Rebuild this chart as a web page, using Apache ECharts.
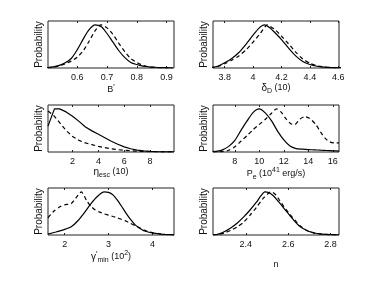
<!DOCTYPE html>
<html><head><meta charset="utf-8">
<script src="https://cdn.jsdelivr.net/npm/echarts@6/dist/echarts.min.js"></script>
<style>html,body{margin:0;padding:0;background:#fff}#c{width:374px;height:281px}</style>
</head><body><div id="c"></div>
<script>
// ---- Panel 1: B'
const b_x = [0.50,0.52,0.54,0.56,0.58,0.60,0.62,0.64,0.66,0.68,0.70,0.72,0.74,0.76,0.78,0.80,0.82,0.84,0.86,0.88,0.90,0.92];
const b_solid = [0.01,0.025,0.06,0.12,0.22,0.42,0.67,0.89,1.00,0.96,0.80,0.60,0.40,0.24,0.13,0.08,0.045,0.028,0.018,0.010,0.006,0.003];
const b_dashed = [0.005,0.02,0.05,0.10,0.16,0.25,0.40,0.62,0.86,1.00,0.93,0.78,0.57,0.38,0.22,0.13,0.06,0.03,0.012,0.006,0.003,0.001];
const b_ticks = [0.6,0.7,0.8,0.9];
// ---- Panel 2: delta_D
const d_xs = [3.70,3.75,3.80,3.85,3.90,3.95,4.00,4.04,4.08,4.12,4.16,4.20,4.25,4.30,4.35,4.40,4.45,4.50,4.55,4.60,4.65];
const d_solid = [0.01,0.04,0.12,0.22,0.36,0.55,0.76,0.92,1.00,0.93,0.80,0.66,0.46,0.28,0.15,0.08,0.04,0.02,0.01,0.005,0.003];
const d_xd = [3.70,3.75,3.80,3.85,3.90,3.95,4.00,4.05,4.10,4.15,4.20,4.25,4.30,4.35,4.40,4.45,4.50,4.55,4.60,4.65];
const d_dashed = [0.005,0.03,0.10,0.18,0.28,0.42,0.60,0.80,1.00,0.90,0.74,0.56,0.37,0.21,0.11,0.05,0.025,0.012,0.005,0.002];
const d_ticks = [3.8,4,4.2,4.4,4.6];
// ---- Panel 3: eta_esc
const e_xs = [0.1,0.6,1.0,1.5,2,2.5,3,3.5,4,4.5,5,5.5,6,6.5,7,7.5,8,8.5,9,9.85];
const e_solid = [0.60,1.00,1.00,0.93,0.83,0.71,0.58,0.49,0.41,0.33,0.25,0.18,0.12,0.075,0.045,0.025,0.014,0.008,0.004,0.002];
const e_xd = [0.1,0.5,1.0,1.5,2,2.5,3,3.5,4,4.5,5,5.5,6,6.5,7,7.5,8,9,9.85];
const e_dashed = [0.95,0.86,0.68,0.50,0.36,0.27,0.21,0.17,0.13,0.10,0.075,0.055,0.04,0.028,0.018,0.012,0.007,0.003,0.001];
const e_ticks = [2,4,6,8];
// ---- Panel 4: P_e
const p_xs = [6.2,6.6,7.0,7.5,8.0,8.5,9.0,9.5,10.0,10.5,11.0,11.5,12.0,12.5,13.0,13.5,14.0,14.5,15.0,15.5,16.0,16.5];
const p_solid = [0.01,0.02,0.05,0.13,0.27,0.50,0.72,0.92,1.00,0.90,0.72,0.48,0.28,0.14,0.08,0.065,0.055,0.05,0.042,0.035,0.028,0.02];
const p_xd = [6.2,7.0,7.5,8.0,8.5,9.0,9.5,10.0,10.5,11.0,11.4,11.8,12.2,12.6,12.9,13.3,13.7,14.1,14.6,15.0,15.4,15.8,16.2,16.5];
const p_dashed = [0.0,0.01,0.04,0.12,0.25,0.38,0.52,0.64,0.76,0.90,1.00,0.92,0.76,0.65,0.64,0.76,0.82,0.78,0.64,0.46,0.31,0.23,0.21,0.21];
const p_ticks = [8,10,12,14,16];
// ---- Panel 5: gamma'_min
const g_xs = [1.62,1.8,2.0,2.15,2.3,2.45,2.6,2.75,2.9,3.0,3.1,3.2,3.3,3.4,3.5,3.6,3.7,3.8,3.9,4.0,4.1,4.2,4.3,4.49];
const g_solid = [0.02,0.07,0.13,0.19,0.33,0.52,0.73,0.90,1.00,0.99,0.93,0.81,0.66,0.50,0.36,0.24,0.16,0.10,0.07,0.05,0.035,0.02,0.012,0.005];
const g_xd = [1.62,1.75,1.9,2.0,2.15,2.25,2.38,2.5,2.6,2.7,2.8,2.9,3.0,3.1,3.2,3.3,3.4,3.5,3.6,3.7,3.8,3.9,4.0,4.1,4.2,4.3,4.49];
const g_dashed = [0.40,0.55,0.66,0.70,0.73,0.85,1.00,0.80,0.66,0.58,0.53,0.49,0.46,0.43,0.40,0.36,0.32,0.27,0.22,0.17,0.12,0.08,0.055,0.035,0.02,0.012,0.005];
const g_ticks = [2,3,4];
// ---- Panel 6: n
const n_xs = [2.245,2.27,2.30,2.33,2.36,2.39,2.42,2.45,2.47,2.49,2.51,2.53,2.55,2.57,2.59,2.61,2.63,2.65,2.67,2.69,2.71,2.73,2.76,2.80,2.84];
const n_solid = [0.0,0.02,0.08,0.17,0.28,0.42,0.58,0.76,0.90,1.00,0.98,0.91,0.80,0.68,0.56,0.44,0.32,0.22,0.15,0.10,0.065,0.04,0.02,0.008,0.003];
const n_xd = [2.245,2.27,2.30,2.33,2.36,2.39,2.42,2.45,2.48,2.51,2.52,2.54,2.56,2.58,2.60,2.62,2.64,2.66,2.68,2.70,2.72,2.75,2.80,2.84];
const n_dashed = [0.0,0.015,0.05,0.11,0.19,0.30,0.46,0.64,0.84,0.98,1.00,0.94,0.80,0.66,0.53,0.41,0.30,0.20,0.13,0.08,0.05,0.025,0.008,0.003];
const n_ticks = [2.4,2.6,2.8];

const FONT = 'Liberation Sans, Arial, Helvetica, sans-serif';
const zip = (xs, ys) => xs.map((x, i) => [x, ys[i]]);

const panels = [
  {xs:b_x, s:b_solid, xd:b_x, d:b_dashed, min:0.502, max:0.925, ticks:b_ticks, name:'B{p|′}', gap:14, smooth:0.3},
  {xs:d_xs, s:d_solid, xd:d_xd, d:d_dashed, min:3.718, max:4.605, ticks:d_ticks, name:'{g|δ}{sub|D} (10)', gap:10, smooth:0.2},
  {xs:e_xs, s:e_solid, xd:e_xd, d:e_dashed, min:0.1, max:9.85, ticks:e_ticks, name:'{g|η}{sub|esc} (10)', gap:12, smooth:0},
  {xs:p_xs, s:p_solid, xd:p_xd, d:p_dashed, min:6.22, max:16.5, ticks:p_ticks, name:'P{sub|e} (10{sup|41} erg/s)', gap:12, smooth:0.25},
  {xs:g_xs, s:g_solid, xd:g_xd, d:g_dashed, min:1.62, max:4.49, ticks:g_ticks, name:'{g|γ}{p|′}{sub|min} (10{sup|2})', gap:13, smooth:0.2},
  {xs:n_xs, s:n_solid, xd:n_xd, d:n_dashed, min:2.245, max:2.84, ticks:n_ticks, name:'n', gap:25, smooth:0.25}
];
const lefts = [48, 213];
const tops = [21, 105, 188];
const W = 126, H = 47;

const rich = {
  g: {fontSize: 10, fontFamily: FONT, color: '#111'},
  sub: {fontSize: 7, fontFamily: FONT, color: '#111', verticalAlign: 'bottom', padding: [7, 0, 0, 0]},
  sup: {fontSize: 7, fontFamily: FONT, color: '#111', verticalAlign: 'top', padding: [0, 0, 6, 0]},
  p: {fontSize: 8, fontFamily: FONT, color: '#111', verticalAlign: 'top', padding: [0, 0, 6, 0]}
};

const grid = [], xAxis = [], yAxis = [], series = [];
panels.forEach((p, i) => {
  const col = i % 2, row = Math.floor(i / 2);
  grid.push({left: lefts[col], top: tops[row], width: W, height: H, show: true,
    borderColor: '#222', borderWidth: 1, backgroundColor: '#fff'});
  xAxis.push({type: 'value', gridIndex: i, position: 'bottom', min: p.min, max: p.max,
    axisLine: {show: false}, splitLine: {show: false},
    axisTick: {inside: true, length: 2, customValues: p.ticks, lineStyle: {color: '#222'}},
    axisLabel: {customValues: p.ticks, fontSize: 9, fontFamily: FONT, color: '#111', margin: 5},
    name: p.name, nameLocation: 'middle', nameGap: p.gap,
    nameTextStyle: {fontSize: 9, fontFamily: FONT, color: '#111', rich: rich}});
  xAxis.push({type: 'value', gridIndex: i, position: 'top', min: p.min, max: p.max,
    axisLine: {show: false}, splitLine: {show: false},
    axisTick: {inside: true, length: 2, customValues: p.ticks, lineStyle: {color: '#222'}},
    axisLabel: {show: false}});
  yAxis.push({type: 'value', gridIndex: i, min: 0, max: 1.09,
    axisLine: {show: false}, axisTick: {show: false}, axisLabel: {show: false}, splitLine: {show: false},
    name: 'Probability', nameLocation: 'middle', nameGap: 4, nameRotate: 90,
    nameTextStyle: {fontSize: 10, fontFamily: FONT, color: '#111'}});
  series.push({type: 'line', xAxisIndex: 2 * i, yAxisIndex: i, data: zip(p.xs, p.s),
    showSymbol: false, smooth: p.smooth, clip: true,
    lineStyle: {color: '#000', width: 1.2, type: 'solid'}});
  series.push({type: 'line', xAxisIndex: 2 * i, yAxisIndex: i, data: zip(p.xd, p.d),
    showSymbol: false, smooth: p.smooth, clip: true,
    lineStyle: {color: '#000', width: 1.2, type: [4, 3]}});
});

const chart = echarts.init(document.getElementById('c'), null, {renderer: 'canvas'});
chart.setOption({animation: false, backgroundColor: '#fff', grid, xAxis, yAxis, series});
</script></body></html>
